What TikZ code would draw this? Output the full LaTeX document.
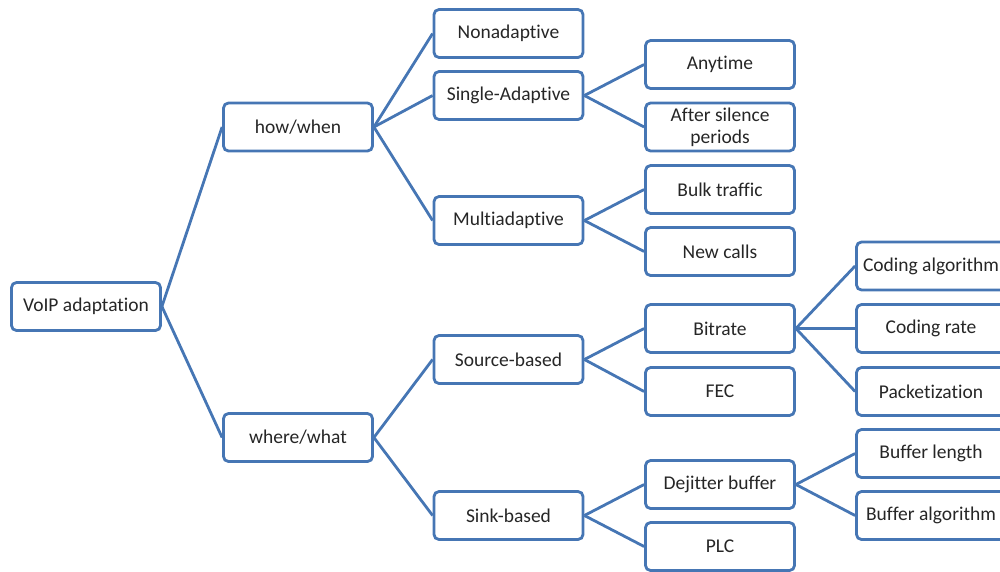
\documentclass[tikz,border=0pt]{standalone}
\usepackage{fontspec}
\setmainfont[Ligatures={NoCommon}]{Carlito}
\definecolor{boxline}{RGB}{70,118,180}
\definecolor{boxtext}{RGB}{38,38,38}
\begin{document}
\begin{tikzpicture}[x=1pt,y=-1pt,
  item/.style={draw=boxline, line width=2.8pt, rounded corners=5pt, fill=white,
    minimum width=149pt, minimum height=48pt, inner sep=0pt, align=center,
    text=boxtext, font=\fontsize{19.5}{22}\selectfont},
  link/.style={draw=boxline, line width=2.8pt}]
\useasboundingbox (0,0) rectangle (1000,571);
\clip (0,0) rectangle (1000,571);
% level 0
\node[item] (voip) at (86,306.5) {VoIP adaptation};
% level 1
\node[item] (how) at (298,127) {how/when};
\node[item] (where) at (298,437.5) {where/what};
% level 2
\node[item] (non) at (508.5,33.5) {Nonadaptive};
\node[item] (single) at (508.5,95.5) {Single-Adaptive};
\node[item] (multi) at (508.5,220.5) {Multiadaptive};
\node[item] (source) at (508.5,359.5) {Source-based};
\node[item] (sink) at (508.5,515.5) {Sink-based};
% level 3
\node[item] (any) at (720,64.5) {Anytime};
\node[item] (silence) at (720,127) {After silence\\periods};
\node[item] (bulk) at (720,189.5) {Bulk traffic};
\node[item] (calls) at (720,251.5) {New calls};
\node[item] (bitrate) at (720,328.5) {Bitrate};
\node[item] (fec) at (720,391.5) {FEC};
\node[item] (dejitter) at (720,484.5) {Dejitter buffer};
\node[item] (plc) at (720,546.5) {PLC};
% level 4
\node[item] (calg) at (931,266) {Coding algorithm};
\node[item] (crate) at (931,328.5) {Coding rate};
\node[item] (pack) at (931,391.5) {Packetization};
\node[item] (blen) at (931,453.5) {Buffer length};
\node[item] (balg) at (931,515.5) {Buffer algorithm};
% connectors
\foreach \p/\c in {voip/how, voip/where,
  how/non, how/single, how/multi,
  where/source, where/sink,
  single/any, single/silence,
  multi/bulk, multi/calls,
  source/bitrate, source/fec,
  sink/dejitter, sink/plc,
  bitrate/calg, bitrate/crate, bitrate/pack,
  dejitter/blen, dejitter/balg}
  \draw[link] (\p.east) -- (\c.west);
\end{tikzpicture}
\end{document}
